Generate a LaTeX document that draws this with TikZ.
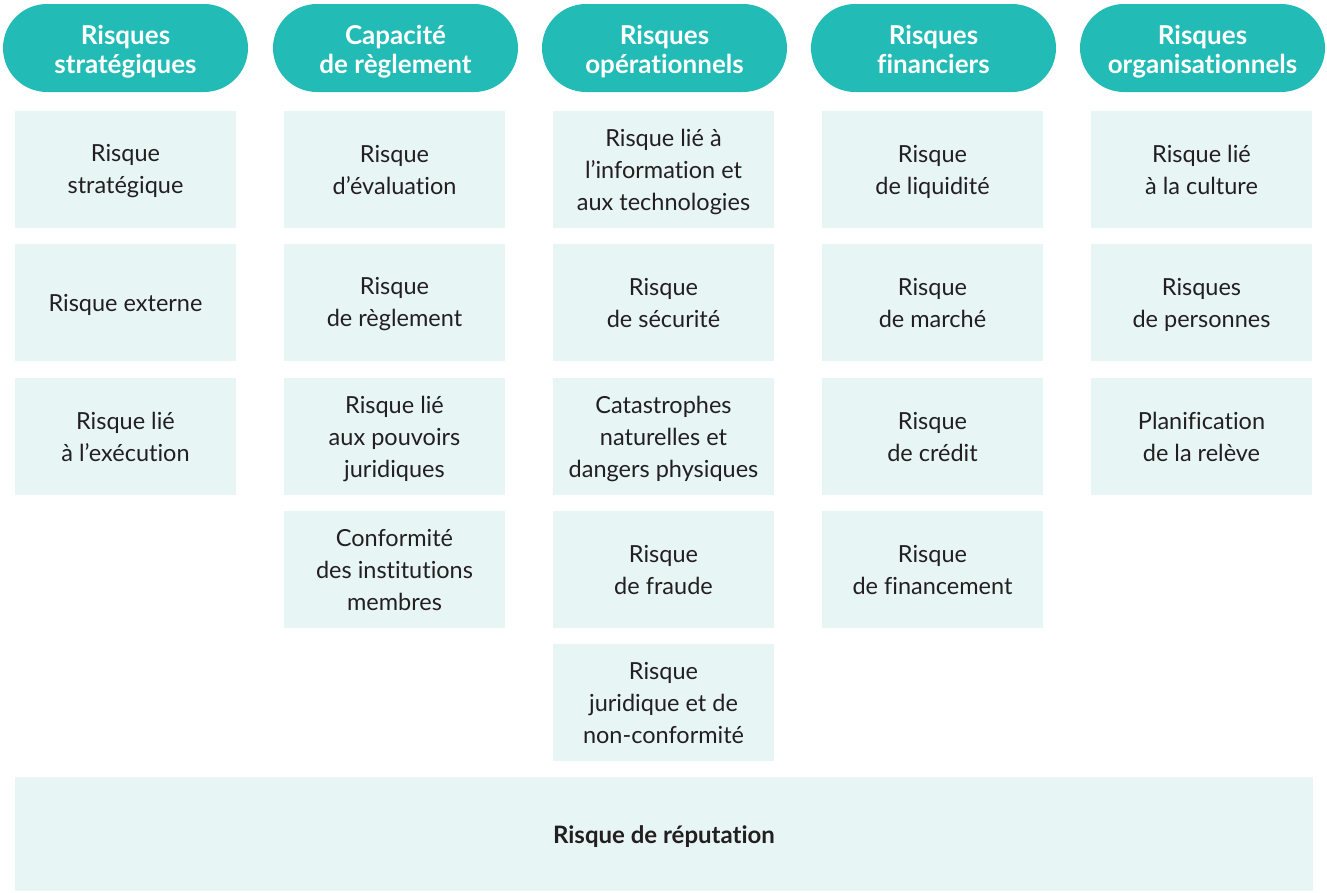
\documentclass[tikz,border=0pt]{standalone}
\usepackage{fontspec}
\setmainfont{Lato}[Ligatures=NoCommon]
\usetikzlibrary{shapes.misc}
\definecolor{headteal}{HTML}{22BBB6}
\definecolor{boxfill}{HTML}{E8F5F5}
\definecolor{bodytext}{HTML}{231F20}
\tikzset{
  header/.style={rounded rectangle, fill=headteal, minimum width=245pt,
    minimum height=88pt, inner sep=0pt},
  headtext/.style={text=white, align=center, inner sep=0pt, yshift=-3.5pt,
    font=\fontsize{26}{29}\selectfont\bfseries,
    execute at end node={\vphantom{q}}},
  riskbox/.style={rectangle, fill=boxfill, minimum width=221pt,
    minimum height=117pt, inner sep=0pt},
  boxtext/.style={text=bodytext, align=center, inner sep=0pt, yshift=-2pt,
    font=\fontsize{23.5}{32}\selectfont,
    execute at end node={\vphantom{q}}},
  bottombar/.style={rectangle, fill=boxfill, minimum width=1298pt,
    minimum height=114pt, inner sep=0pt},
  bartext/.style={text=bodytext, align=center, inner sep=0pt, yshift=-3pt,
    font=\fontsize{24}{32}\selectfont\bfseries}
}
\begin{document}
\begin{tikzpicture}[x=1pt,y=-1pt]
\useasboundingbox (0,0) rectangle (1327,892);
% column headers
\node[header, label={[headtext]center:Risques\\stratégiques}] (h1) at (125.5,48) {};
\node[header, label={[headtext]center:Capacité\\de règlement}] (h2) at (395.5,48) {};
\node[header, label={[headtext]center:Risques\\opérationnels}] (h3) at (664.5,48) {};
\node[header, label={[headtext]center:Risques\\financiers}] (h4) at (933.5,48) {};
\node[header, label={[headtext]center:Risques\\organisationnels}] (h5) at (1202.5,48) {};
% strategic
\node[riskbox, label={[boxtext]center:Risque\\stratégique}] (a1) at (125.5,169.5) {};
\node[riskbox, label={[boxtext]center:Risque externe}] (a2) at (125.5,302.5) {};
\node[riskbox, label={[boxtext]center:Risque lié\\à l’exécution}] (a3) at (125.5,436.5) {};
% settlement capacity
\node[riskbox, label={[boxtext]center:Risque\\d’évaluation}] (b1) at (394.5,169.5) {};
\node[riskbox, label={[boxtext]center:Risque\\de règlement}] (b2) at (394.5,302.5) {};
\node[riskbox, label={[boxtext]center:Risque lié\\aux pouvoirs\\juridiques}] (b3) at (394.5,436.5) {};
\node[riskbox, label={[boxtext]center:Conformité\\des institutions\\membres}] (b4) at (394.5,569.5) {};
% operational
\node[riskbox, label={[boxtext]center:Risque lié à\\l’information et\\aux technologies}] (c1) at (663.5,169.5) {};
\node[riskbox, label={[boxtext]center:Risque\\de sécurité}] (c2) at (663.5,302.5) {};
\node[riskbox, label={[boxtext]center:Catastrophes\\naturelles et\\dangers physiques}] (c3) at (663.5,436.5) {};
\node[riskbox, label={[boxtext]center:Risque\\de fraude}] (c4) at (663.5,569.5) {};
\node[riskbox, label={[boxtext]center:Risque\\juridique et de\\non-conformité}] (c5) at (663.5,702.5) {};
% financial
\node[riskbox, label={[boxtext]center:Risque\\de liquidité}] (d1) at (932.5,169.5) {};
\node[riskbox, label={[boxtext]center:Risque\\de marché}] (d2) at (932.5,302.5) {};
\node[riskbox, label={[boxtext]center:Risque\\de crédit}] (d3) at (932.5,436.5) {};
\node[riskbox, label={[boxtext]center:Risque\\de financement}] (d4) at (932.5,569.5) {};
% organisational
\node[riskbox, label={[boxtext]center:Risque lié\\à la culture}] (e1) at (1201.5,169.5) {};
\node[riskbox, label={[boxtext]center:Risques\\de personnes}] (e2) at (1201.5,302.5) {};
\node[riskbox, label={[boxtext]center:Planification\\de la relève}] (e3) at (1201.5,436.5) {};
% reputation
\node[bottombar, label={[bartext]center:Risque de réputation}] (rep) at (664,834) {};
\end{tikzpicture}
\end{document}
